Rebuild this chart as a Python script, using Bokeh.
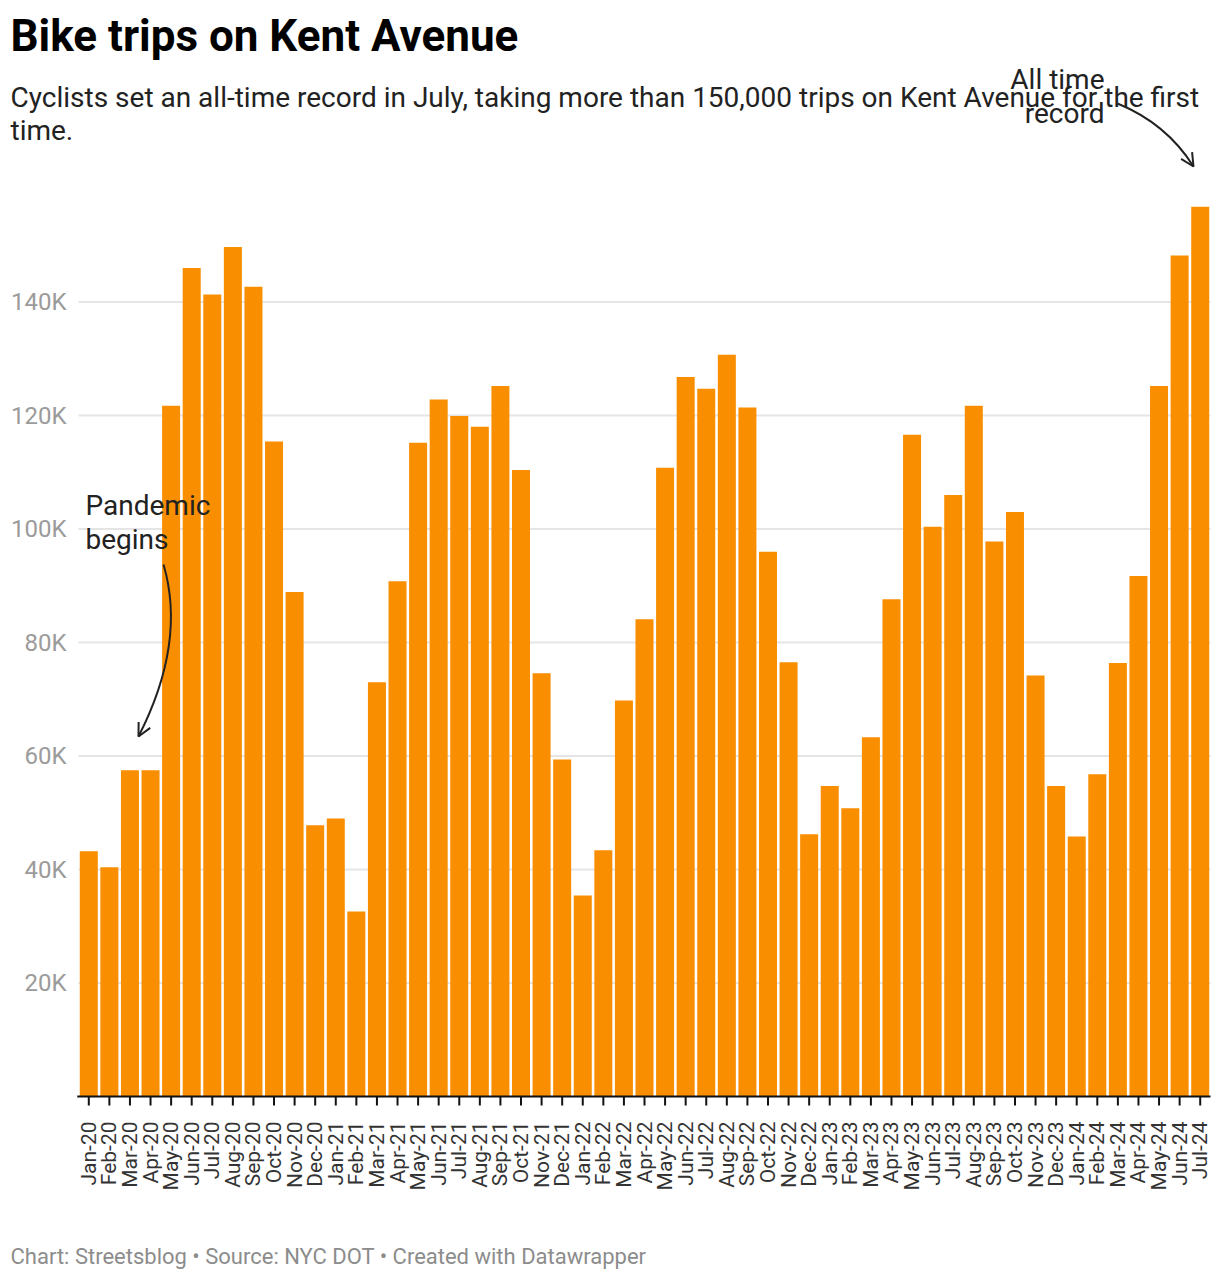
from bokeh.plotting import figure
from bokeh.models import Range1d, Label, Arrow, OpenHead, ColumnDataSource
from bokeh.core.properties import value
from bokeh.embed import file_html
from bokeh.resources import INLINE
import math

# ---------------- data ----------------
months = ["Jan-20", "Feb-20", "Mar-20", "Apr-20", "May-20", "Jun-20", "Jul-20", "Aug-20", "Sep-20", "Oct-20", "Nov-20", "Dec-20",
          "Jan-21", "Feb-21", "Mar-21", "Apr-21", "May-21", "Jun-21", "Jul-21", "Aug-21", "Sep-21", "Oct-21", "Nov-21", "Dec-21",
          "Jan-22", "Feb-22", "Mar-22", "Apr-22", "May-22", "Jun-22", "Jul-22", "Aug-22", "Sep-22", "Oct-22", "Nov-22", "Dec-22",
          "Jan-23", "Feb-23", "Mar-23", "Apr-23", "May-23", "Jun-23", "Jul-23", "Aug-23", "Sep-23", "Oct-23", "Nov-23", "Dec-23",
          "Jan-24", "Feb-24", "Mar-24", "Apr-24", "May-24", "Jun-24", "Jul-24"]
trips = [43200, 40400, 57500, 57500, 121700, 146000, 141300, 149700, 142700, 115400, 88900, 47800,
         49000, 32600, 73000, 90800, 115200, 122800, 119900, 118000, 125200, 110400, 74600, 59400,
         35400, 43400, 69800, 84100, 110800, 126800, 124700, 130700, 121400, 96000, 76500, 46200,
         54700, 50800, 63300, 87600, 116600, 100400, 106000, 121700, 97800, 103000, 74200, 54700,
         45800, 56800, 76400, 91700, 125200, 148200, 156800]
y_ticks = [20000, 40000, 60000, 80000, 100000, 120000, 140000]
y_tick_labels = ["20K", "40K", "60K", "80K", "100K", "120K", "140K"]

title = "Bike trips on Kent Avenue"
subtitle_lines = ["Cyclists set an all-time record in July, taking more than 150,000 trips on Kent Avenue for the first",
                  "time."]
footer = "Chart: Streetsblog \u2022 Source: NYC DOT \u2022 Created with Datawrapper"
note1_lines = ["Pandemic", "begins"]
note2_lines = ["All time", "record"]

# ---------------- layout (page pixels) ----------------
W, H = 1220, 1282
BAR_LEFT, BAR_RIGHT = 78, 1210      # page x of first band start / last band end
BASE_Y = 1096                        # page y of zero line
PX_PER_K = 5.675
N = len(months)
UNIT = (BAR_RIGHT - BAR_LEFT) / N

def dx(px):
    return -0.5 + (px - BAR_LEFT) / UNIT

def dy(py):
    return (BASE_Y - py) / PX_PER_K * 1000

FONT = "Roboto"
ORANGE = "#f98e00"
DARK = "#222222"
AXIS = "#111111"

p = figure(width=W, height=H, output_backend="svg", toolbar_location=None,
           x_range=Range1d(dx(0), dx(W)), y_range=Range1d(dy(H), dy(0)),
           min_border_left=0, min_border_right=0, min_border_top=0, min_border_bottom=0)
p.outline_line_color = None
p.background_fill_color = "white"
p.border_fill_color = "white"
p.xaxis.visible = False
p.yaxis.visible = False
p.xgrid.visible = False
p.ygrid.visible = False

idx = list(range(N))

# horizontal grid lines over the bar area
p.segment(x0=[-0.5] * len(y_ticks), x1=[N - 0.5] * len(y_ticks), y0=y_ticks, y1=y_ticks,
          line_color="#e5e5e5", line_width=2, level="underlay")
# y tick labels
p.text(x=[dx(66)] * len(y_ticks), y=y_ticks, text=y_tick_labels, text_align="right",
       text_baseline="middle", text_font=value(FONT), text_font_size="24px", text_color="#9b9b9b")

# bars
src = ColumnDataSource(dict(x=idx, top=trips, month=months))
p.vbar(x="x", top="top", bottom=0, width=0.875, source=src, fill_color=ORANGE, line_color=None)

# x axis: baseline, ticks, rotated month labels
p.segment(x0=[-0.56], x1=[N - 0.5], y0=[0], y1=[0], line_color=AXIS, line_width=2)
p.segment(x0=idx, x1=idx, y0=[0] * N, y1=[dy(BASE_Y + 9)] * N, line_color=AXIS, line_width=2)
p.text(x=idx, y=[dy(BASE_Y + 25)] * N, text=months, angle=math.pi / 2, text_align="right",
       text_baseline="middle", text_font=value(FONT), text_font_size="21px", text_color="#333333")

# title / subtitle / footer
p.add_layout(Label(x=dx(10), y=dy(35), text=title, text_font=FONT, text_font_size="44px",
                   text_font_style="bold", text_color="#000000", text_baseline="alphabetic"))
for line, py in zip(subtitle_lines, [97, 130]):
    p.add_layout(Label(x=dx(10), y=dy(py), text=line, text_font=FONT, text_font_size="28px",
                       text_color=DARK, text_baseline="alphabetic"))
p.add_layout(Label(x=dx(10), y=dy(1256), text=footer, text_font=FONT, text_font_size="22px",
                   text_color="#8c8c8c", text_baseline="alphabetic"))

# annotations
for line, py in zip(note1_lines, [505, 539]):
    p.add_layout(Label(x=dx(85), y=dy(py), text=line, text_font=FONT, text_font_size="28px",
                       text_color=DARK, text_baseline="alphabetic"))
for line, py in zip(note2_lines, [79, 113]):
    p.add_layout(Label(x=dx(1104), y=dy(py), text=line, text_font=FONT, text_font_size="28px",
                       text_color=DARK, text_baseline="alphabetic", text_align="right"))

# curved arrows
curves = [((163, 564), (186, 642), (138, 736)),
          ((1117, 103), (1166, 123), (1193, 166))]
for (sx0, sy0), (cx, cy), (ex, ey) in curves:
    p.quadratic(x0=[dx(sx0)], y0=[dy(sy0)], cx=[dx(cx)], cy=[dy(cy)], x1=[dx(ex)], y1=[dy(ey)],
                line_color=DARK, line_width=2)
    tx, ty = ex - cx, ey - cy
    L = math.hypot(tx, ty)
    bx, by = ex - 3 * tx / L, ey - 3 * ty / L
    p.add_layout(Arrow(end=OpenHead(size=13, line_width=2, line_color=DARK),
                       x_start=dx(bx), y_start=dy(by), x_end=dx(ex), y_end=dy(ey),
                       line_color=DARK, line_width=2))

open("out.html", "w").write(file_html(p, INLINE))
